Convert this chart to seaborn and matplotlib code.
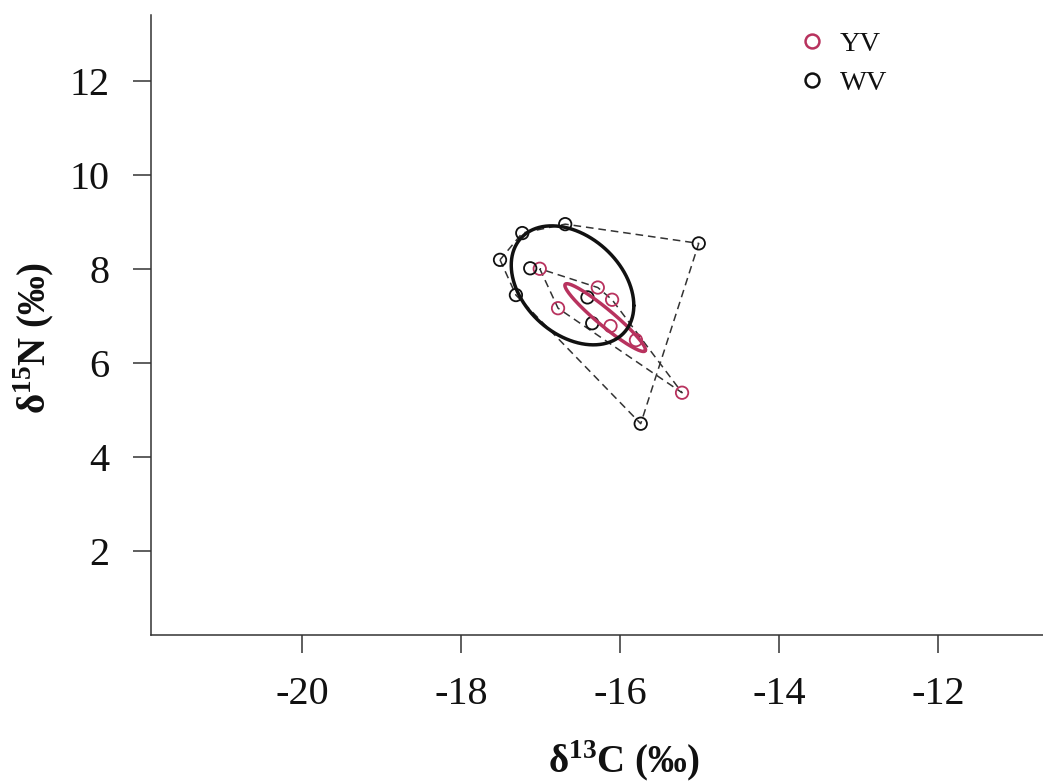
import numpy as np
import pandas as pd
import matplotlib
matplotlib.use("Agg")
import matplotlib.pyplot as plt
from matplotlib.lines import Line2D
import seaborn as sns

# isotope values
yv_d13c = [-17.01, -16.28, -16.10, -16.78, -16.12, -15.80, -15.22]
yv_d15n = [8.01, 7.61, 7.35, 7.17, 6.79, 6.49, 5.37]
wv_d13c = [-16.69, -17.23, -17.51, -17.13, -17.31, -16.41, -16.35, -15.01, -15.74]
wv_d15n = [8.96, 8.77, 8.20, 8.02, 7.45, 7.40, 6.85, 8.55, 4.71]

# standard ellipse shape (sd x, sd y, correlation)
yv_ellipse = [0.507, 0.722, -0.95]
wv_ellipse = [0.771, 1.267, -0.34]

groups = ["YV", "WV"]
colors = {"YV": "#B8325E", "WV": "#111111"}
x_ticks = [-20, -18, -16, -14, -12]
y_ticks = [2, 4, 6, 8, 10, 12]


def convex_hull(pts):
    pts = sorted(map(tuple, pts))

    def cross(o, a, b):
        return (a[0] - o[0]) * (b[1] - o[1]) - (a[1] - o[1]) * (b[0] - o[0])

    lower, upper = [], []
    for p in pts:
        while len(lower) >= 2 and cross(lower[-2], lower[-1], p) <= 0:
            lower.pop()
        lower.append(p)
    for p in reversed(pts):
        while len(upper) >= 2 and cross(upper[-2], upper[-1], p) <= 0:
            upper.pop()
        upper.append(p)
    hull = lower[:-1] + upper[:-1]
    hull.append(hull[0])
    return np.array(hull)


def ellipse_points(cx, cy, sdx, sdy, rho, n=200):
    cov = np.array([[sdx**2, rho * sdx * sdy], [rho * sdx * sdy, sdy**2]])
    L = np.linalg.cholesky(cov)
    t = np.linspace(0, 2 * np.pi, n)
    e = L @ np.vstack([np.cos(t), np.sin(t)])
    return cx + e[0], cy + e[1]


df = pd.concat([
    pd.DataFrame({"d13C": yv_d13c, "d15N": yv_d15n, "group": "YV"}),
    pd.DataFrame({"d13C": wv_d13c, "d15N": wv_d15n, "group": "WV"}),
], ignore_index=True)
ellipses = {"YV": yv_ellipse, "WV": wv_ellipse}

sns.set_style("ticks")
plt.rcParams["font.family"] = ["Liberation Serif", "DejaVu Serif"]
plt.rcParams["mathtext.fontset"] = "custom"
plt.rcParams["mathtext.rm"] = "Liberation Serif"
plt.rcParams["mathtext.bf"] = "Liberation Serif:bold"
plt.rcParams["axes.unicode_minus"] = False
plt.rcParams["text.color"] = "#111111"
plt.rcParams["axes.labelcolor"] = "#111111"
plt.rcParams["xtick.labelcolor"] = "#111111"
plt.rcParams["ytick.labelcolor"] = "#111111"

fig = plt.figure(figsize=(10.43, 7.83), dpi=100)
ax = fig.add_axes([0.1448, 0.1884, 0.907, 0.7925])

# convex hulls (dashed)
for g in groups:
    sub = df[df["group"] == g]
    hull = convex_hull(sub[["d13C", "d15N"]].values)
    ax.plot(hull[:, 0], hull[:, 1], color="#333333", lw=1.1,
            linestyle=(0, (5, 3.2)), zorder=2)

# hollow points
sns.scatterplot(data=df, x="d13C", y="d15N", hue="group", palette=colors,
                s=80, linewidth=1.3, legend=False, ax=ax, zorder=3)
for coll in ax.collections:
    fc = coll.get_facecolors()
    coll.set_edgecolors(fc)
    coll.set_facecolor("none")

# standard ellipses around group means
for g in groups:
    sub = df[df["group"] == g]
    sdx, sdy, rho = ellipses[g]
    ex, ey = ellipse_points(sub["d13C"].mean(), sub["d15N"].mean(), sdx, sdy, rho)
    ax.plot(ex, ey, color=colors[g], lw=2.5, zorder=4)

ax.set_xlim(-21.9, -10.0)
ax.set_ylim(0.2, 13.415)
ax.set_xticks(x_ticks)
ax.set_yticks(y_ticks)
ax.tick_params(axis="both", labelsize=29, length=13, width=1.1,
               color="#333333", direction="out")
ax.tick_params(axis="x", pad=16)
ax.tick_params(axis="y", pad=17)
for side in ["top", "right"]:
    ax.spines[side].set_visible(False)
for side in ["left", "bottom"]:
    ax.spines[side].set_linewidth(1.1)
    ax.spines[side].set_color("#333333")

ax.set_xlabel(r"δ$^{\mathbf{13}}$C (‰)", fontsize=28, fontweight="bold")
ax.set_ylabel(r"δ$^{\mathbf{15}}$N (‰)", fontsize=28, fontweight="bold")
ax.xaxis.set_label_coords(0.5, -0.203)
ax.xaxis.label.set_va("center")
ax.yaxis.set_label_coords(-0.1237, 0.479)
ax.yaxis.label.set_va("center")

handles = [Line2D([], [], marker="o", linestyle="none", markerfacecolor="none",
                  markeredgecolor=colors[g], markersize=10, markeredgewidth=1.8)
           for g in groups]
fig.legend(handles, groups, loc="upper left", bbox_to_anchor=(0.765, 0.960),
           frameon=False, fontsize=20.5, handlelength=1.0, handletextpad=0.48,
           labelspacing=0.46, borderpad=0, borderaxespad=0)

fig.savefig("out.png", dpi=100)
